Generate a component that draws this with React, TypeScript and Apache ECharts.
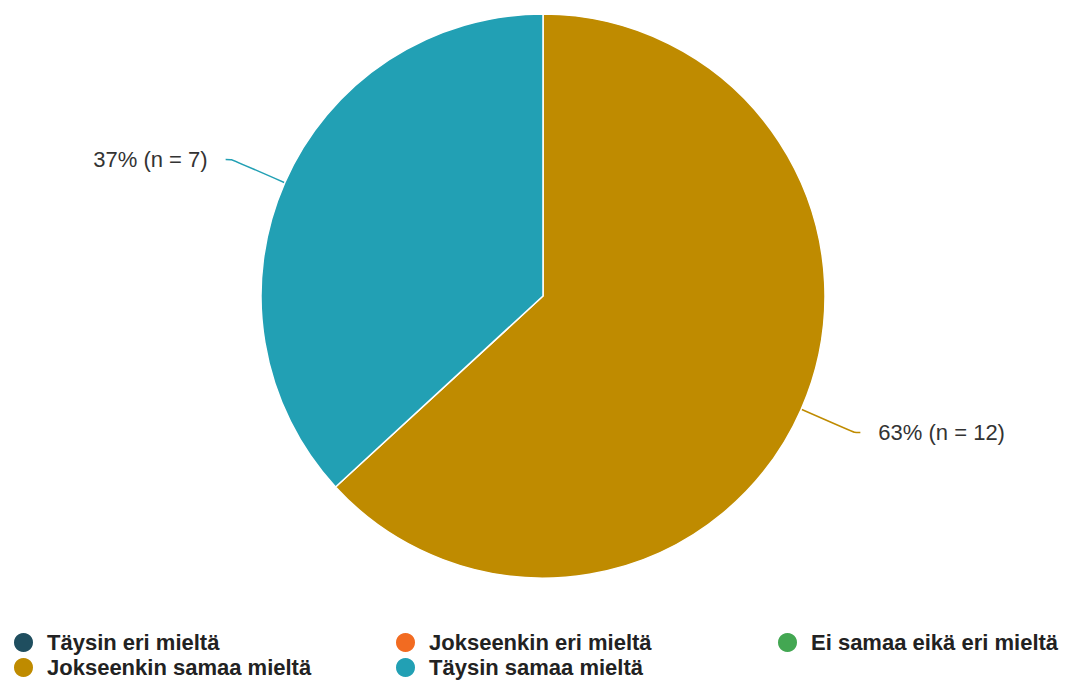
import React, { useEffect, useRef } from "react";
import * as echarts from "echarts";

const categories = [
  "Täysin eri mieltä",
  "Jokseenkin eri mieltä",
  "Ei samaa eikä eri mieltä",
  "Jokseenkin samaa mieltä",
  "Täysin samaa mieltä",
];
const counts = [0, 0, 0, 12, 7];
const colors = ["#1f4e5f", "#f26b21", "#43a752", "#bf8b00", "#22a0b4"];

const legendPos = [
  { left: 12, top: 631 },
  { left: 394, top: 631 },
  { left: 776, top: 631 },
  { left: 12, top: 656 },
  { left: 394, top: 656 },
];

export default function App() {
  const ref = useRef<HTMLDivElement>(null);
  useEffect(() => {
    const chart = echarts.init(ref.current!, undefined, { renderer: "svg" });
    const total = counts.reduce((a, b) => a + b, 0);
    chart.setOption({
      animation: false,
      color: colors,
      legend: categories.map((c, i) => ({
        data: [c],
        left: legendPos[i].left,
        top: legendPos[i].top,
        padding: 0,
        icon: "circle",
        itemWidth: 21,
        itemHeight: 21,
        itemGap: 4,
        selectedMode: false,
        textStyle: {
          fontFamily: "Liberation Sans",
          fontWeight: "bold",
          fontSize: 22,
          color: "#222",
          padding: [0, 0, 0, 8],
        },
      })),
      series: [
        {
          type: "pie",
          center: [543, 296],
          radius: 282,
          startAngle: 90,
          clockwise: true,
          avoidLabelOverlap: false,
          itemStyle: { borderColor: "#fff", borderWidth: 1.5 },
          label: {
            fontFamily: "Liberation Sans",
            fontSize: 22,
            color: "#333",
            distanceToLabelLine: 18,
            formatter: (p: any) =>
              `${Math.round((p.value / total) * 100)}% (n = ${p.value})`,
          },
          labelLine: { length: 58, length2: 6, smooth: 0.2, lineStyle: { width: 1.5 } },
          data: categories.map((c, i) => ({
            name: c,
            value: counts[i],
            label: { show: counts[i] > 0 },
            labelLine: { show: counts[i] > 0 },
          })),
        },
      ],
    });
    return () => chart.dispose();
  }, []);
  return (
    <div
      ref={ref}
      style={{ position: "fixed", left: 0, top: 0, width: 1073, height: 682, background: "#fff" }}
    />
  );
}
